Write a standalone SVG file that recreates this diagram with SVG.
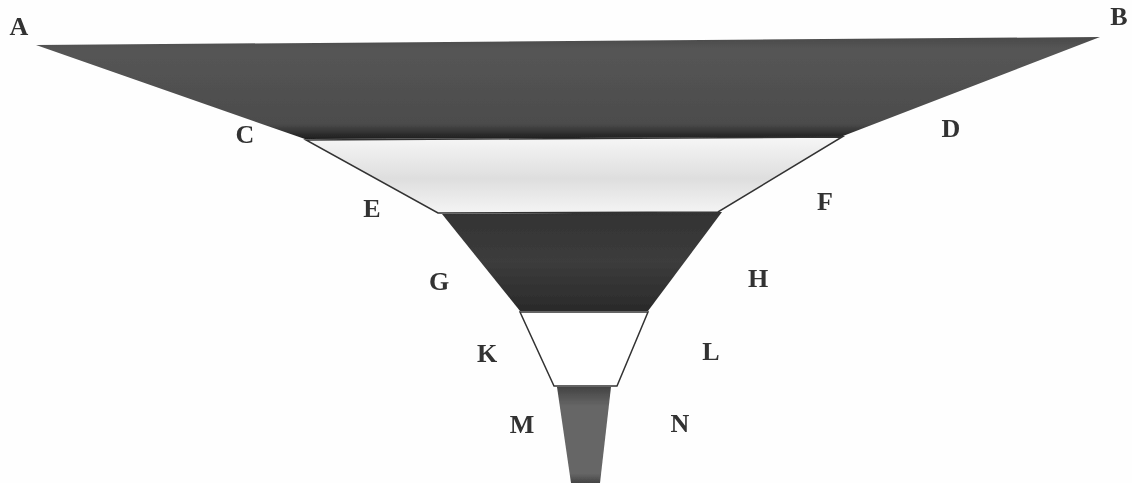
<svg xmlns="http://www.w3.org/2000/svg" width="1132" height="483" viewBox="0 0 1132 483">
<style>
text{font-family:"Liberation Serif","Times New Roman",serif;font-size:26px;font-weight:bold;fill:#333;text-anchor:middle;filter:url(#s)}
.o{stroke:#333;stroke-width:1.5}
</style>
<defs>
<filter id="s" x="-20%" y="-20%" width="140%" height="140%"><feGaussianBlur stdDeviation="0.7"/></filter>
<linearGradient id="g1" x1="0" y1="0" x2="0" y2="1"><stop offset="0" stop-color="#4a4a4a"/><stop offset=".12" stop-color="#555"/><stop offset=".85" stop-color="#4c4c4c"/><stop offset="1" stop-color="#1e1e1e"/></linearGradient>
<linearGradient id="g2" x1="0" y1="0" x2="0" y2="1"><stop offset="0" stop-color="#f6f6f6"/><stop offset=".55" stop-color="#dedede"/><stop offset="1" stop-color="#f4f4f4"/></linearGradient>
<linearGradient id="g3" x1="0" y1="0" x2="0" y2="1"><stop offset="0" stop-color="#333"/><stop offset=".5" stop-color="#3c3c3c"/><stop offset="1" stop-color="#2a2a2a"/></linearGradient>
<linearGradient id="g5" x1="0" y1="0" x2="0" y2="1"><stop offset="0" stop-color="#444"/><stop offset=".2" stop-color="#666"/><stop offset=".9" stop-color="#666"/><stop offset="1" stop-color="#444"/></linearGradient>
</defs>
<rect width="1132" height="483" fill="#fefefe"/>
<g id="funnel" filter="url(#s)">
<polygon id="band1" points="36,45 1100,37 843,136 845,137 305,139" fill="url(#g1)"/>
<polygon id="band2" class="o" points="306,140 842,137 718,212 438,213" fill="url(#g2)"/>
<polygon id="band3" points="442,214 722,212 648,311 520,311" fill="url(#g3)"/>
<polygon id="band4" class="o" points="520,312 648,312 617,386 554,386" fill="#fff"/>
<polygon id="band5" points="557,387 611,387 600,483 571,483" fill="url(#g5)"/>
</g>
<g id="labels">
<text x="19" y="35">A</text>
<text x="1119" y="25">B</text>
<text x="245" y="143">C</text>
<text x="951" y="137">D</text>
<text x="372" y="217">E</text>
<text x="825" y="210">F</text>
<text x="439" y="290">G</text>
<text x="758" y="287">H</text>
<text x="487" y="362">K</text>
<text x="711" y="360">L</text>
<text x="522" y="433">M</text>
<text x="680" y="432">N</text>
</g>
</svg>
